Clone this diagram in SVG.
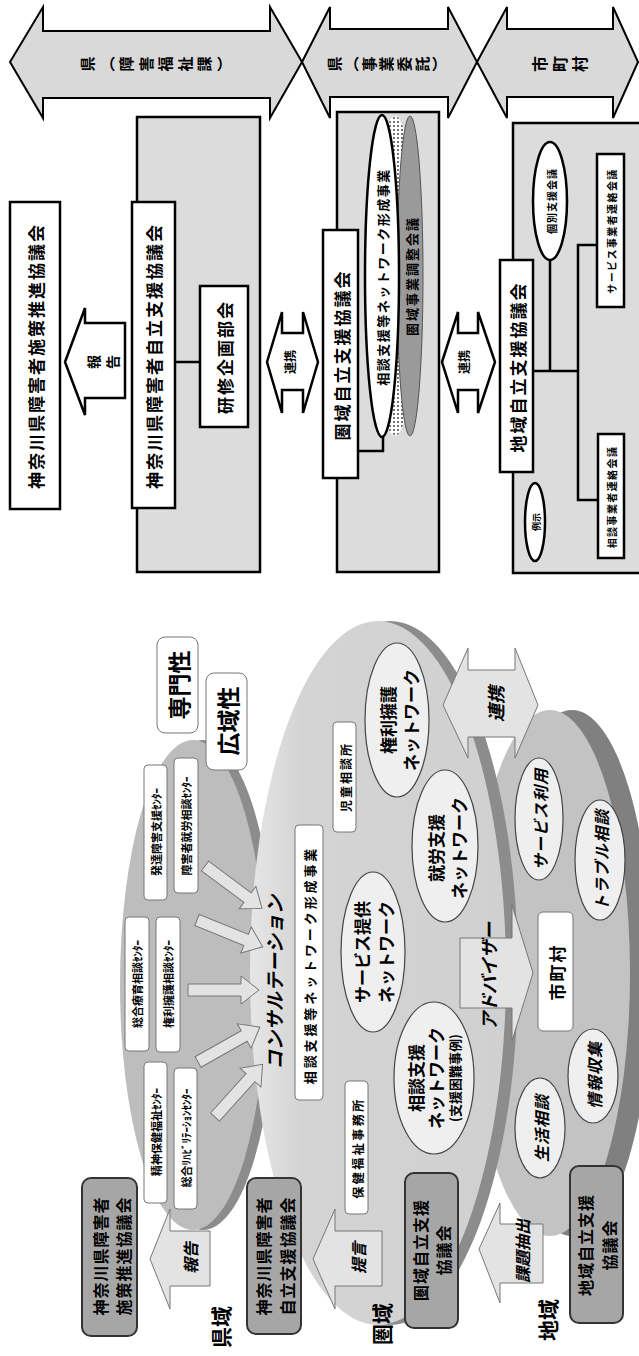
<svg xmlns="http://www.w3.org/2000/svg" width="639" height="1356" viewBox="0 0 639 1356">
<defs>
<style>
.t{font-family:"Noto Sans CJK JP","Noto Sans CJK SC",sans-serif;text-anchor:middle;dominant-baseline:central;fill:#000}
.b{font-weight:bold}
.i{font-style:italic}
.v{writing-mode:vertical-rl}
.band{fill:#d9d9d9;stroke:#000;stroke-width:2}
.gbox{fill:#dcdcdc;stroke:#000;stroke-width:2.5}
.wbox{fill:#fff;stroke:#000;stroke-width:2.5}
.ln{fill:none;stroke:#000;stroke-width:2.5}
.rbox{fill:#fff;stroke:#777;stroke-width:1}
.dbox{fill:#a6a6a6;stroke:#333;stroke-width:2}
.node{fill:#efefef;stroke:#444;stroke-width:1.2}
.garrow{fill:#e3e3e3;stroke:#777;stroke-width:1}
</style>
<pattern id="dots" width="4" height="4" patternUnits="userSpaceOnUse"><rect width="4" height="4" fill="#fff"/><circle cx="2" cy="2" r="0.9" fill="#333"/></pattern>
<linearGradient id="gk" x1="0" y1="0" x2="1" y2="0"><stop offset="0" stop-color="#e6e6e6"/><stop offset="0.2" stop-color="#d4d4d4"/><stop offset="1" stop-color="#d0d0d0"/></linearGradient>
<path id="arr" d="M0,-6 L53,-6 L53,-14 L71,0 L53,14 L53,6 L0,6 Z"/>
</defs>

<!-- upper half: organisation chart -->
<g id="band-ken-shogai">
<polygon class="band" points="10,62 43,7 43,31 270,31 270,7 302,62 270,118 270,98 43,98 43,118"/>
<text class="t b v" font-size="15" letter-spacing="4.5" transform="translate(158,64) rotate(-90)">県（障害福祉課）</text>
</g>
<g id="band-ken-itaku">
<polygon class="band" points="302,62 330,7 330,29 448,29 448,7 477,62 448,118 448,97 330,97 330,118"/>
<text class="t b v" font-size="15" letter-spacing="2.6" transform="translate(388,64) rotate(-90)">県（事業委託）</text>
</g>
<g id="band-shichoson">
<polygon class="band" points="477,62 507,7 507,29 613,29 613,7 638,62 613,118 613,97 507,97 507,118"/>
<text class="t b v" font-size="16" letter-spacing="4" transform="translate(562,64) rotate(-90)">市町村</text>
</g>

<g id="n-sesaku">
<rect class="wbox" x="10" y="202" width="50" height="307"/>
<text class="t b" font-size="17" letter-spacing="2" transform="translate(35,356) rotate(-90)">神奈川県障害者施策推進協議会</text>
</g>
<g id="n-jiritsu">
<rect class="gbox" x="137" y="117" width="123" height="455"/>
<rect class="wbox" x="132" y="202" width="43" height="306"/>
<text class="t b" font-size="17" letter-spacing="2" transform="translate(153,356) rotate(-90)">神奈川県障害者自立支援協議会</text>
</g>
<g id="n-kenshu">
<rect class="wbox" x="200" y="286" width="48" height="141"/>
<text class="t b" font-size="17" letter-spacing="2" transform="translate(224,357) rotate(-90)">研修企画部会</text>
</g>

<g id="n-keniki-kyogikai">
<rect class="gbox" x="337" y="112" width="102" height="460"/>
<rect class="wbox" x="323" y="230" width="35" height="248"/>
<text class="t b" font-size="17" letter-spacing="2" transform="translate(341,355) rotate(-90)">圏域自立支援協議会</text>
</g>
<g id="n-network-jigyo">
<ellipse cx="395" cy="276" rx="22" ry="160" fill="url(#dots)"/>
<ellipse cx="410" cy="276" rx="13" ry="160" fill="#9a9a9a" stroke="#555" stroke-width="1"/>
<ellipse cx="382" cy="276" rx="17" ry="161" class="wbox"/>
<text class="t b" font-size="13" letter-spacing="1.5" transform="translate(382,277) rotate(-90)">相談支援等ネットワーク形成事業</text>
<text class="t b" font-size="13" letter-spacing="2" transform="translate(411,276) rotate(-90)">圏域事業調整会議</text>
</g>

<g id="n-chiiki-kyogikai">
<rect class="gbox" x="513" y="123" width="140" height="450"/>
<rect class="wbox" x="500" y="260" width="33" height="212"/>
<text class="t b" font-size="17" letter-spacing="2" transform="translate(517,367) rotate(-90)">地域自立支援協議会</text>
</g>
<g id="n-kobetsu">
<ellipse class="wbox" cx="550" cy="201" rx="17" ry="59"/>
<text class="t b" font-size="10" letter-spacing="1" transform="translate(551,201) rotate(-90)">個別支援会議</text>
</g>
<g id="n-service-renraku">
<rect class="wbox" x="597" y="154" width="27" height="153"/>
<text class="t b" font-size="10" letter-spacing="1.4" transform="translate(611,231) rotate(-90)">サービス事業者連絡会議</text>
</g>
<g id="n-sodan-renraku">
<rect class="wbox" x="598" y="434" width="26" height="124"/>
<text class="t b" font-size="10" letter-spacing="1.4" transform="translate(611,497) rotate(-90)">相談事業者連絡会議</text>
</g>
<g id="n-reiji">
<ellipse class="wbox" cx="535" cy="522" rx="10" ry="39" stroke-width="2"/>
<text class="t b" font-size="9" transform="translate(536,522) rotate(-90)">例示</text>
</g>

<g id="connectors-upper">
<line class="ln" x1="175" y1="362" x2="200" y2="362"/>
<polyline class="ln" points="358,451 383,451 383,436"/>
<polyline class="ln" points="533,371 578,371"/>
<line class="ln" x1="550" y1="260" x2="550" y2="371"/>
<polyline class="ln" points="597,245 578,245 578,500 598,500"/>
<g id="c-hokoku-upper">
<polygon class="wbox" stroke-width="2" points="65,362 85,308 85,323 125,323 125,398 85,398 85,415"/>
<text class="t b" font-size="14" transform="translate(102,362) rotate(-90)"><tspan x="0" y="-9">報</tspan><tspan x="0" y="10">告</tspan></text>
</g>
<g id="c-renkei-upper1">
<polygon class="wbox" stroke-width="2" points="267,362 282,312 282,333 303,333 303,312 318,362 303,413 303,390 282,390 282,413"/>
<text class="t b" font-size="12" transform="translate(289,362) rotate(-90)">連携</text>
</g>
<g id="c-renkei-upper2">
<polygon class="wbox" stroke-width="2" points="442,362 458,312 458,333 478,333 478,312 495,362 478,413 478,390 458,390 458,413"/>
<text class="t b" font-size="12" transform="translate(463,362) rotate(-90)">連携</text>
</g>
</g>

<!-- lower half: area diagram -->
<g id="area-ken">
<ellipse cx="203" cy="985" rx="73" ry="245" fill="#8c8c8c"/>
<ellipse cx="193" cy="985" rx="73" ry="245" fill="#bdbdbd"/>
</g>
<g id="area-chiiki">
<ellipse cx="572" cy="973" rx="80" ry="263" fill="#808080"/>
<ellipse cx="550" cy="973" rx="80" ry="263" fill="#c3c3c3"/>
</g>
<g id="area-keniki">
<ellipse cx="390" cy="973" rx="128" ry="352" fill="#8c8c8c"/>
<ellipse cx="378" cy="973" rx="128" ry="352" fill="url(#gk)"/>
</g>

<g id="n-senmon">
<rect class="rbox" x="157" y="637" width="41" height="96" rx="8" stroke-width="1.5"/>
<text class="t b" font-size="23" transform="translate(178,685) rotate(-90)">専門性</text>
</g>
<g id="n-koiki">
<rect class="rbox" x="206" y="673" width="41" height="97" rx="8" stroke-width="1.5"/>
<text class="t b" font-size="23" transform="translate(227,721) rotate(-90)">広域性</text>
</g>

<g id="n-hattatsu"><rect class="rbox" x="144" y="765" width="23" height="135" rx="4"/>
<text class="t b" font-size="11" transform="translate(156,832) rotate(-90)">発達障害支援ｾﾝﾀｰ</text></g>
<g id="n-shuro-center"><rect class="rbox" x="174" y="758" width="24" height="135" rx="4"/>
<text class="t b" font-size="11" transform="translate(186,826) rotate(-90)">障害者就労相談ｾﾝﾀｰ</text></g>
<g id="n-ryoiku"><rect class="rbox" x="125" y="917" width="24" height="134" rx="4"/>
<text class="t b" font-size="11" transform="translate(137,984) rotate(-90)">総合療育相談ｾﾝﾀｰ</text></g>
<g id="n-kenri-center"><rect class="rbox" x="156" y="917" width="24" height="135" rx="4"/>
<text class="t b" font-size="11" transform="translate(168,984) rotate(-90)">権利擁護相談ｾﾝﾀｰ</text></g>
<g id="n-seishin"><rect class="rbox" x="144" y="1062" width="23" height="141" rx="4"/>
<text class="t b" font-size="11" transform="translate(156,1132) rotate(-90)">精神保健福祉ｾﾝﾀｰ</text></g>
<g id="n-riha"><rect class="rbox" x="174" y="1068" width="23" height="141" rx="4"/>
<text class="t b" font-size="11" transform="translate(186,1138) rotate(-90)">総合ﾘﾊﾋﾞﾘﾃｰｼｮﾝｾﾝﾀｰ</text></g>

<g id="n-consul">
<text class="t b i" font-size="19" letter-spacing="0.5" transform="translate(273,982) rotate(-90)">コンサルテーション</text>
</g>
<g id="n-network-box">
<rect class="rbox" x="295" y="825" width="28" height="275" rx="4"/>
<text class="t b" font-size="13" letter-spacing="2.9" transform="translate(309,965) rotate(-90)">相談支援等ネットワーク形成事業</text>
</g>
<g id="n-jido"><rect class="rbox" x="333" y="722" width="23" height="110" rx="4"/>
<text class="t b" font-size="12" letter-spacing="2" transform="translate(345,777) rotate(-90)">児童相談所</text></g>
<g id="n-hoken"><rect class="rbox" x="345" y="1081" width="23" height="133" rx="4"/>
<text class="t b" font-size="12" letter-spacing="2.5" transform="translate(357,1148) rotate(-90)">保健福祉事務所</text></g>

<g id="n-kenri-net"><ellipse class="node" cx="397" cy="720" rx="32" ry="77"/>
<text class="t b" font-size="17" transform="translate(398,720) rotate(-90)"><tspan x="0" y="-11">権利擁護</tspan><tspan x="0" y="12">ネットワーク</tspan></text></g>
<g id="n-shuro-net"><ellipse class="node" cx="445" cy="846" rx="33" ry="76"/>
<text class="t b" font-size="17" transform="translate(446,848) rotate(-90)"><tspan x="0" y="-11">就労支援</tspan><tspan x="0" y="12">ネットワーク</tspan></text></g>
<g id="n-service-net"><ellipse class="node" cx="373" cy="952" rx="32" ry="80"/>
<text class="t b" font-size="17" transform="translate(373,952) rotate(-90)"><tspan x="0" y="-12">サービス提供</tspan><tspan x="0" y="12">ネットワーク</tspan></text></g>
<g id="n-sodan-net"><ellipse class="node" cx="434" cy="1078" rx="40" ry="76"/>
<text class="t b" font-size="17" transform="translate(434,1078) rotate(-90)"><tspan x="0" y="-19">相談支援</tspan><tspan x="0" y="1">ネットワーク</tspan><tspan x="0" y="20" font-size="13">(支援困難事例)</tspan></text></g>

<g id="n-service-riyo"><ellipse class="node" cx="539" cy="819" rx="24" ry="61"/>
<text class="t b i" font-size="16" letter-spacing="1" transform="translate(540,819) rotate(-90)">サービス利用</text></g>
<g id="n-trouble"><ellipse class="node" cx="600" cy="860" rx="25" ry="60"/>
<text class="t b i" font-size="16" letter-spacing="1" transform="translate(601,860) rotate(-90)">トラブル相談</text></g>
<g id="n-joho"><ellipse class="node" cx="593" cy="1076" rx="25" ry="47"/>
<text class="t b i" font-size="16" letter-spacing="1" transform="translate(594,1075) rotate(-90)">情報収集</text></g>
<g id="n-seikatsu"><ellipse class="node" cx="540" cy="1128" rx="25" ry="50"/>
<text class="t b i" font-size="16" letter-spacing="1" transform="translate(541,1128) rotate(-90)">生活相談</text></g>
<g id="n-shichoson"><rect class="rbox" x="538" y="912" width="35" height="119" rx="5"/>
<text class="t b" font-size="17" letter-spacing="2" transform="translate(556,972) rotate(-90)">市町村</text></g>

<g id="n-sesaku-dark"><rect class="dbox" x="82" y="1178" width="55" height="158" rx="9"/>
<text class="t b" font-size="16" letter-spacing="1" transform="translate(111,1256) rotate(-90)"><tspan x="0" y="-11">神奈川県障害者</tspan><tspan x="0" y="12">施策推進協議会</tspan></text></g>
<g id="n-jiritsu-dark"><rect class="dbox" x="247" y="1178" width="54" height="156" rx="9"/>
<text class="t b" font-size="16" letter-spacing="1" transform="translate(275,1256) rotate(-90)"><tspan x="0" y="-12">神奈川県障害者</tspan><tspan x="0" y="12">自立支援協議会</tspan></text></g>
<g id="n-keniki-dark"><rect class="dbox" x="405" y="1173" width="53" height="155" rx="9"/>
<text class="t b" font-size="16" letter-spacing="1" transform="translate(431,1250) rotate(-90)"><tspan x="0" y="-11">圏域自立支援</tspan><tspan x="0" y="12">協議会</tspan></text></g>
<g id="n-chiiki-dark"><rect class="dbox" x="570" y="1166" width="53" height="157" rx="9"/>
<text class="t b" font-size="16" letter-spacing="1" transform="translate(597,1245) rotate(-90)"><tspan x="0" y="-12">地域自立支援</tspan><tspan x="0" y="12">協議会</tspan></text></g>

<g id="labels-area">
<text class="t b" font-size="21" transform="translate(220,1327) rotate(-90)">県域</text>
<text class="t b" font-size="21" transform="translate(381,1324) rotate(-90)">圏域</text>
<text class="t b" font-size="21" transform="translate(547,1320) rotate(-90)">地域</text>
</g>

<g id="connectors-lower">
<use href="#arr" class="garrow" transform="translate(205,866) rotate(36.6)"/>
<use href="#arr" class="garrow" transform="translate(197,920) rotate(22.2)"/>
<use href="#arr" class="garrow" transform="translate(188,990)"/>
<use href="#arr" class="garrow" transform="translate(198,1062) rotate(-29.4)"/>
<use href="#arr" class="garrow" transform="translate(215,1117) rotate(-47.9)"/>
<g id="c-renkei-lower">
<polygon class="garrow" points="443,705 468,648 468,670 515,670 515,648 538,705 515,758 515,737 468,737 468,758"/>
<text class="t b i" font-size="18" transform="translate(495,704) rotate(-90)">連携</text>
</g>
<g id="c-advisor">
<polygon class="garrow" points="460,938 512,938 512,905 533,973 512,1041 512,1008 460,1008"/>
<text class="t b i" font-size="18" transform="translate(488,976) rotate(-90)">アドバイザー</text>
</g>
<g id="c-hokoku-lower">
<polygon class="garrow" points="150,1259 170,1209 170,1231 210,1231 210,1286 170,1286 170,1309"/>
<text class="t b i" font-size="16" transform="translate(190,1258) rotate(-90)">報告</text>
</g>
<g id="c-teigen">
<polygon class="garrow" points="313,1259 335,1209 335,1231 382,1231 382,1286 335,1286 335,1309"/>
<text class="t b i" font-size="16" transform="translate(358,1258) rotate(-90)">提言</text>
</g>
<g id="c-kadai">
<polygon class="garrow" points="479,1249 500,1203 500,1224 543,1224 543,1283 500,1283 500,1303"/>
<text class="t b i" font-size="16" transform="translate(522,1251) rotate(-90)">課題抽出</text>
</g>
</g>
</svg>
